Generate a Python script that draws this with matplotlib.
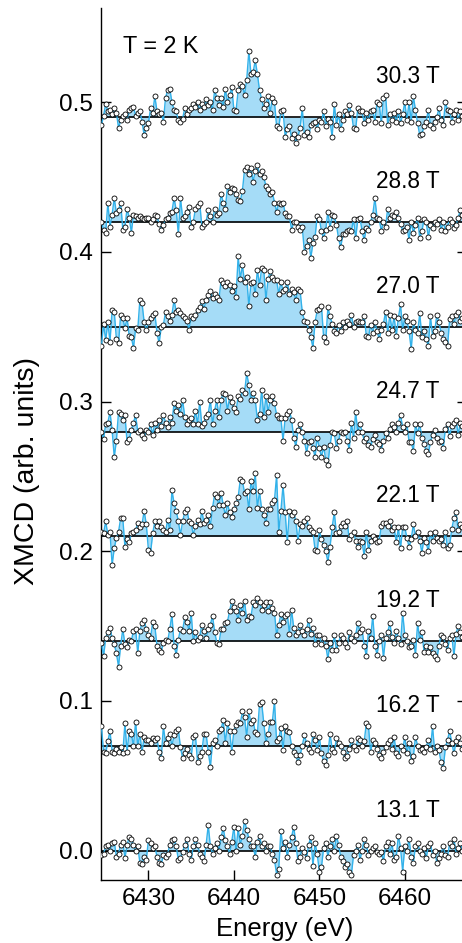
import numpy as np
import matplotlib
matplotlib.use("Agg")
import matplotlib.pyplot as plt
from matplotlib import font_manager as fm

# ---------------- data ----------------
energy_start = 6424.5
energy_step = 0.25
fields = ["30.3 T", "28.8 T", "27.0 T", "24.7 T", "22.1 T", "19.2 T", "16.2 T", "13.1 T"]
offsets = [0.49, 0.42, 0.35, 0.28, 0.21, 0.14, 0.07, 0.0]

# XMCD signal in units of 1e-3 relative to each spectrum's offset
s303 = [-5, 1, 9, 4, 5, 2, 6, 3, -7, -2, 1, 2, -2, 5, 6, 7, 1, 3, 4, -3, -12, -7,
        -4, 6, 3, 14, 4, 2, 3, -3, 13, 18, 19, 10, 5, 4, -2, -3, -1, 6, 2, 5,
        6, 9, 7, 10, 5, 9, 7, 12, 8, 10, 5, 18, 13, 8, 13, 7, 19, 10, 15, 20,
        5, 4, 18, 22, 21, 15, 25, 44, 29, 30, 38, 29, 18, 12, 6, 9, 14, 3, 13, 10,
        -6, -7, 4, 5, -13, -8, -6, -14, -11, -17, -13, -7, 6, -12, -10, -13, -5, -4, -3, -8,
        -2, -3, 4, -6, -1, -3, -13, 9, -5, 2, -8, -2, 4, 2, 8, 3, -7, -8, 6, 4,
        4, -4, 3, -2, 4, 5, -3, 10, 9, -4, 13, 15, -5, 2, -2, 3, -3, 4, -4, 2,
        10, -2, 10, -3, 14, 5, -4, -12, -11, -6, -3, 5, -5, -7, -3, 0, 6, -2, -5, 10,
        5, 4, -3, 2, 5, -2, 4, 1, 3]
s288 = [0, -5, -7, 13, -3, 5, 16, 6, 8, 13, -5, -3, 9, 3, -7, 5, 4, 3, 4, 3, 2, 3,
        3, 0, 2, 5, 4, -1, -5, -2, 2, 3, 6, 7, 16, 8, -8, 16, 3, 4, 7, 10,
        -3, 0, 9, 11, 13, -3, -1, 0, 8, 4, 0, 9, 5, 6, 19, 13, 9, 24, 20, 23,
        22, 19, 15, 14, 21, 35, 37, 32, 36, 27, 34, 38, 32, 34, 30, 24, 22, 19, 20, 13,
        7, 13, 12, 13, 6, 4, 4, -5, 0, 0, -3, -5, -3, -20, -16, -12, -24, -14, -10, 4,
        2, -6, -11, -5, 7, -4, 5, 4, -2, -11, -17, -8, -8, -6, -5, -6, 2, -11, 2, 3,
        -6, -12, -4, -5, 0, 5, 16, 3, 2, -6, 0, -3, 9, 3, 5, 4, 7, 3, -1, -6,
        -5, -3, -12, 0, -7, -2, 3, -11, -6, 2, 0, -10, -2, -4, 0, -1, 2, -5, 0, -6,
        -3, 2, 0, -4, -2, 3, 8, 5, 2]
s270 = [-13, 2, -9, 3, -10, 11, 10, -8, -11, 8, 6, -1, 6, -6, -7, -14, -1, -2, 18, 16, 3, -2,
        3, 6, 8, 9, -4, -11, 0, 1, 10, 7, 4, 8, 18, 10, 11, 9, 7, 6, 4, -2,
        7, 6, 8, 11, 13, 17, 12, 18, 21, 24, 19, 22, 20, 18, 31, 29, 27, 30, 28, 24,
        27, 20, 47, 32, 41, 30, 33, 14, 29, 30, 22, 38, 28, 39, 38, 18, 32, 37, 33, 31,
        31, 22, 30, 24, 25, 30, 22, 25, 23, 18, 25, 24, 10, 4, 3, -2, -7, -14, 3, 11,
        12, 14, -7, -10, 13, 7, 2, -3, -4, 1, -3, 3, 0, 4, 2, 8, 0, 3, 4, 3,
        3, 7, -6, -7, 1, -4, 3, -3, -8, -2, 2, 10, -4, 8, -2, 7, -6, 6, 15, -2,
        7, 4, -3, -15, 3, -2, -4, 9, -7, -3, -8, -13, 7, -6, -3, 8, 3, -4, -8, -10,
        -13, 5, 7, 2, 8, 10, 4, 6, 3]
s247 = [0, -5, 5, 6, 13, 1, -17, -6, 13, 12, 8, 11, -7, -5, 1, 6, 11, 0, 1, -2, -4, 1,
        0, 5, -2, 6, 1, 8, 4, 11, 6, 3, 10, 6, 19, 14, 18, 12, 21, 10, 5, 8,
        9, 5, 14, 5, 20, 4, 6, 10, 12, 21, 5, 14, 21, 10, 21, 26, 25, 14, 23, 20,
        16, 13, 24, 22, 28, 26, 39, 31, 21, 26, 21, 8, 12, 28, 10, 24, 13, 21, 24, 19,
        11, 9, 9, -6, 9, 12, 14, 8, -4, -10, 1, 5, 0, -6, -14, -7, -6, -11, -17, -4,
        -11, -17, -10, -19, -22, -9, 0, -1, -11, -6, 0, -1, 0, -6, -12, 6, -4, 13, 0, 5,
        0, -6, -4, -9, -10, -5, -2, -7, -8, -12, -6, -1, -4, 2, 5, 3, 0, 6, 11, 3,
        0, 5, -7, -7, -13, 5, -1, 5, -4, -8, -13, -15, -7, -2, 1, -4, -7, -6, -11, 2,
        5, -3, 4, 6, 8, -2, 6, 4, 2]
s221 = [3, 2, 10, 1, 3, -19, -8, -1, 3, 12, 12, -7, -2, -4, 2, 3, 4, 9, 6, 8, 17, 8,
        -9, -11, 2, 10, 7, 10, 6, 4, 3, 11, 4, 31, 22, 17, 10, 1, 10, 16, 18, 10,
        9, 1, 7, 11, 8, 17, 9, 11, 14, 7, 19, 28, 26, 21, 29, 21, 14, 22, 16, 13,
        18, 22, 26, 38, 37, 29, 30, 18, 37, 30, 42, 19, 30, 18, 14, 9, 18, 18, 22, 24,
        41, 3, 17, 34, 16, -4, 17, 14, 16, 10, -3, 8, 7, 10, 12, 6, 4, 3, -9, -10,
        4, -2, -6, -10, -17, -7, 6, 16, 2, 3, 7, 9, 7, 10, -2, 1, 3, -3, -7, -3,
        -4, -13, 3, -9, -3, 0, -2, -4, -3, 7, 9, 9, 7, 10, 4, 6, -4, 6, -8, 6,
        6, -1, -7, -2, 8, 0, 3, -3, -11, -1, -4, -10, 2, -3, 3, -1, -3, -2, -6, 3,
        -8, -6, 5, 12, 16, 4, 8, 6, 3]
s192 = [-1, -10, 2, 6, 9, 2, -2, -8, -17, -3, 8, -2, -4, 1, 0, 7, 8, -8, 7, 12, 14, 8,
        4, 2, 13, 10, -3, -6, -7, -1, 1, 0, 8, 18, -3, -9, 1, 8, 7, 16, 13, 7,
        19, 0, 6, 1, 3, 11, 7, 2, 8, 11, 17, 6, -1, -2, 8, 8, 12, 13, 20, 27,
        23, 20, 14, 24, 19, 27, 14, 17, 16, 26, 24, 29, 26, 21, 24, 26, 20, 26, 22, 19,
        4, 11, 18, 13, 17, 18, 5, 21, 9, 4, 6, 11, 7, 4, 8, 14, 5, 9, -2, 4,
        4, -2, 2, -3, -12, -1, -6, 4, -6, -1, 4, 2, -1, -4, 6, 2, 0, 4, 12, 6,
        8, -3, -10, 7, 2, 17, -3, -9, 0, 4, -11, 2, 6, 12, 3, -1, 7, 2, -2, 19,
        4, 0, -4, -3, 1, -9, 12, 1, 6, -7, -3, -7, -4, -8, -10, -12, -3, 4, 3, -2,
        -6, 2, 4, -10, 5, 10, 6, 3, 1]
s162 = [13, -4, -5, 3, 10, -4, -5, -2, -4, -1, -5, 15, -4, 10, 8, 0, 16, 0, 8, -4, 6, 4,
        4, 2, 5, 4, 5, -4, -8, 13, 2, 5, 8, 0, 7, 10, 11, -1, -8, -5, -2, -6,
        -8, 6, 7, -11, -7, -4, 8, 8, -4, -14, 2, 4, 0, 10, 11, 17, 2, 15, 10, -4,
        10, 14, 16, 15, 23, 19, 6, 23, 15, 17, 9, 8, 28, 29, 15, 2, 8, 16, 16, 30,
        3, 5, 12, -3, 13, 10, 9, 0, -4, -6, -11, -6, 0, 7, 2, -2, -4, 8, 4, -3,
        6, -5, -10, -13, -6, 8, -2, -4, 5, 2, 0, -4, -8, -7, -2, 4, 0, -3, 5, 4,
        0, 3, 15, 13, -4, 4, 2, -2, -6, -8, -4, -1, 2, 4, -2, 6, -5, -7, 0, -3,
        6, -5, 2, -10, -7, 6, 0, -3, -2, -4, -1, 4, -2, 13, -4, 0, -3, -11, -15, -1,
        4, 10, 2, -5, 3, 6, 2, -2, 1]
s131 = [-3, -2, 3, 4, 0, 5, 6, -4, -2, 4, 6, -5, 4, 9, 8, 4, 0, 3, -8, -9, -4, -6,
        7, 5, 2, 3, -4, -8, -9, -3, -4, -2, 4, 7, 8, 3, -6, -5, -1, 4, 8, -2,
        -6, 3, 8, 4, -2, -4, -7, 4, 17, 3, -2, 2, 5, 0, 9, 15, 7, 3, -2, 6,
        16, 0, 15, 4, 10, 20, 14, 8, 3, 3, -4, 6, 10, 3, 5, 0, 3, 3, -2, -6,
        -16, -12, 13, 2, 6, -4, 4, 9, 16, 5, -7, -4, 2, -1, -5, 4, 9, -10, 5, -2,
        -14, -11, 2, 5, -4, 3, 8, 0, 10, 4, -4, -7, -11, -9, -14, -16, -3, 0, 4, -6,
        0, 8, 4, -3, 0, 2, 3, -1, -2, -1, -7, 3, 6, -2, 5, -6, -4, 10, 2, -14,
        3, 0, 8, -4, -8, 3, 5, 0, -2, 2, -5, 3, 5, -3, 0, -8, -5, -2, 3, -3,
        -4, 5, 3, 8, -2, 2, 5, 0, 3]
signals = [s303, s288, s270, s247, s221, s192, s162, s131]

x_ticks = [6430, 6440, 6450, 6460]
y_ticks = [0.0, 0.1, 0.2, 0.3, 0.4, 0.5]
y_ticklabels = ["0.0", "0.1", "0.2", "0.3", "0.4", "0.5"]

# ---------------- style ----------------
avail = {f.name for f in fm.fontManager.ttflist}
base_font = "Liberation Sans" if "Liberation Sans" in avail else "DejaVu Sans"
plt.rcParams["font.family"] = [base_font, "DejaVu Sans"]

fill_color = "#a5dcf7"
line_color = "#33b2ea"

W, H = 462, 943
fig = plt.figure(figsize=(W / 100, H / 100), dpi=100)
ax_left, ax_right, ax_top, ax_bottom = 101, 467, 8, 880
ax = fig.add_axes([ax_left / W, 1 - ax_bottom / H, (ax_right - ax_left) / W, (ax_bottom - ax_top) / H])

for sig, off, lab in zip(signals, offsets, fields):
    n = len(sig)
    e = energy_start + energy_step * np.arange(n)
    y = off + np.asarray(sig) / 1000.0
    ax.fill_between(e, off, y, color=fill_color, lw=0, zorder=1)
    ax.axhline(off, color="black", lw=1.2, zorder=2)
    ax.plot(e, y, color=line_color, lw=1.0, zorder=3)
    ax.plot(e, y, ls="none", marker="o", ms=3.6, mfc="white", mec="black", mew=0.6, zorder=4)
    ax.text(6464.1, off + 0.027, lab, ha="right", va="center", fontsize=16.3)

ax.text(6427.0, 0.537, "T = 2 K", ha="left", va="center", fontsize=16.8)

ax.set_xlim(6424.45, 6467.28)
ax.set_ylim(-0.0196, 0.563)
ax.set_xticks(x_ticks)
ax.set_yticks(y_ticks)
ax.set_yticklabels(y_ticklabels)
ax.tick_params(axis="both", direction="in", length=7.5, width=1.0, labelsize=17.5, pad=6)
ax.tick_params(axis="y", right=True, left=True)
ax.spines["top"].set_visible(False)
for s in ["left", "bottom", "right"]:
    ax.spines[s].set_linewidth(1.0)

ax.set_xlabel("Energy (eV)", fontsize=18.5)
ax.xaxis.set_label_coords(0.503, -0.0425)
ax.set_ylabel("XMCD (arb. units)", fontsize=20.5, va="center")
ax.yaxis.set_label_coords(-0.202, 0.469)

fig.savefig("out.png", dpi=100)
